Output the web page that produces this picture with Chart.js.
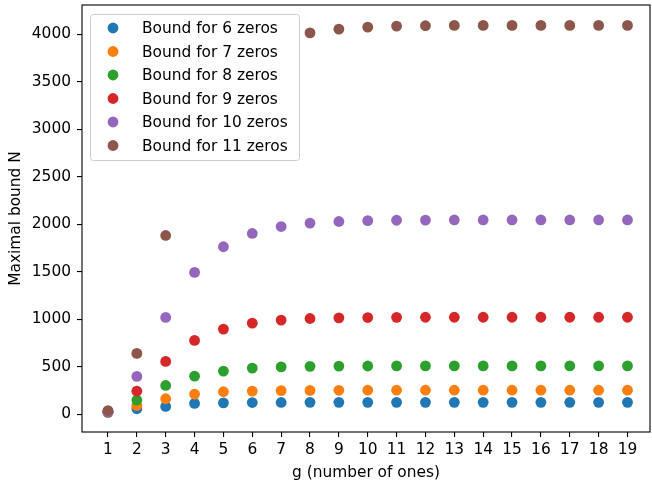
<!DOCTYPE html>
<html>
<head>
<meta charset="utf-8">
<script src="https://cdn.jsdelivr.net/npm/chart.js@4/dist/chart.umd.min.js"></script>
<style>
  html, body { margin: 0; padding: 0; background: #fff; }
  #wrap { width: 652px; height: 482px; }
</style>
</head>
<body>
<div id="wrap"><canvas id="c" width="652" height="482"></canvas></div>
<script>
const gValues = [1,2,3,4,5,6,7,8,9,10,11,12,13,14,15,16,17,18,19];
const xTickLabels = [1,2,3,4,5,6,7,8,9,10,11,12,13,14,15,16,17,18,19];
const yTickLabels = [0,500,1000,1500,2000,2500,3000,3500,4000];

const seriesLabels = ["Bound for 6 zeros","Bound for 7 zeros","Bound for 8 zeros","Bound for 9 zeros","Bound for 10 zeros","Bound for 11 zeros"];
const seriesColors = ["#1f77b4","#ff7f0e","#2ca02c","#d62728","#9467bd","#8c564b"];

const bound6  = [22, 60, 84, 116, 122, 125, 126, 127, 127, 127, 127, 127, 127, 127, 127, 127, 127, 127, 127];
const bound7  = [24, 95, 165, 214, 239, 246, 251, 253, 254, 255, 255, 255, 255, 255, 255, 255, 255, 255, 255];
const bound8  = [26, 151, 305, 403, 456, 488, 500, 506, 509, 510, 511, 511, 511, 511, 511, 511, 511, 511, 511];
const bound9  = [28, 245, 558, 779, 898, 961, 993, 1010, 1017, 1020, 1022, 1023, 1023, 1023, 1023, 1023, 1023, 1023, 1023];
const bound10 = [30, 400, 1021, 1495, 1765, 1905, 1978, 2014, 2031, 2040, 2044, 2046, 2047, 2047, 2047, 2047, 2047, 2047, 2047];
const bound11 = [41, 642, 1884, null, null, null, null, 4017, 4056, 4077, 4088, 4092, 4095, 4095, 4095, 4095, 4095, 4095, 4095];

const allSeries = [bound6, bound7, bound8, bound9, bound10, bound11];

const FONT = "'DejaVu Sans', sans-serif";
const FS = 15.4;

const datasets = allSeries.map((vals, i) => ({
  label: seriesLabels[i],
  data: gValues.map((g, j) => vals[j] === null ? null : ({x: g, y: vals[j]})).filter(p => p !== null),
  backgroundColor: seriesColors[i],
  borderColor: seriesColors[i],
  borderWidth: 0,
  pointRadius: 5.4,
  pointHoverRadius: 5.4,
  showLine: false,
  order: allSeries.length - i
}));

const framePlugin = {
  id: 'frame',
  afterDraw(chart) {
    const {ctx, chartArea: a} = chart;
    ctx.save();
    ctx.strokeStyle = '#000';
    ctx.lineWidth = 1.1;
    ctx.strokeRect(a.left, a.top, a.right - a.left, a.bottom - a.top);
    ctx.restore();

    // legend box (matplotlib style, upper left)
    const lx = 90.5, ly = 14.5, lw = 209, lh = 146, r = 3;
    ctx.save();
    ctx.globalAlpha = 0.8;
    ctx.fillStyle = '#fff';
    ctx.strokeStyle = '#cccccc';
    ctx.lineWidth = 1;
    ctx.beginPath();
    ctx.moveTo(lx + r, ly);
    ctx.lineTo(lx + lw - r, ly);
    ctx.arcTo(lx + lw, ly, lx + lw, ly + r, r);
    ctx.lineTo(lx + lw, ly + lh - r);
    ctx.arcTo(lx + lw, ly + lh, lx + lw - r, ly + lh, r);
    ctx.lineTo(lx + r, ly + lh);
    ctx.arcTo(lx, ly + lh, lx, ly + lh - r, r);
    ctx.lineTo(lx, ly + r);
    ctx.arcTo(lx, ly, lx + r, ly, r);
    ctx.closePath();
    ctx.fill();
    ctx.globalAlpha = 1;
    ctx.stroke();
    ctx.restore();

    ctx.save();
    ctx.font = FS + "px " + FONT;
    ctx.textBaseline = 'middle';
    ctx.textAlign = 'left';
    seriesLabels.forEach((lab, i) => {
      const cy = 28 + i * 23.5;
      ctx.fillStyle = seriesColors[i];
      ctx.beginPath();
      ctx.arc(113, cy, 5.4, 0, Math.PI * 2);
      ctx.fill();
      ctx.fillStyle = '#000';
      ctx.fillText(lab, 142, cy + 1);
    });
    ctx.restore();
  }
};

new Chart(document.getElementById('c'), {
  type: 'scatter',
  data: { datasets },
  options: {
    responsive: false,
    animation: false,
    devicePixelRatio: 1,
    layout: { autoPadding: false, padding: { top: 5, right: 2, left: 0, bottom: 0 } },
    plugins: {
      legend: { display: false },
      tooltip: { enabled: false }
    },
    scales: {
      x: {
        type: 'linear',
        min: 0.1,
        max: 19.78,
        afterBuildTicks(axis) { axis.ticks = xTickLabels.map(v => ({value: v})); },
        afterFit(axis) { axis.height = 50; axis.paddingLeft = 0; axis.paddingRight = 0; },
        grid: { display: true, drawOnChartArea: false, drawTicks: true, tickLength: 5, color: '#000', lineWidth: 1.1 },
        border: { display: false },
        ticks: { color: '#000', font: { family: FONT, size: FS }, padding: 4, maxRotation: 0, autoSkip: false, callback: v => String(v) },
        title: { display: true, text: 'g (number of ones)', color: '#000', font: { family: FONT, size: FS }, padding: { top: 0, bottom: 0 } }
      },
      y: {
        type: 'linear',
        min: -185,
        max: 4310,
        afterBuildTicks(axis) { axis.ticks = yTickLabels.map(v => ({value: v})); },
        afterFit(axis) { axis.width = 82; axis.paddingTop = 0; axis.paddingBottom = 0; },
        grid: { display: true, drawOnChartArea: false, drawTicks: true, tickLength: 5, color: '#000', lineWidth: 1.1 },
        border: { display: false },
        ticks: { color: '#000', font: { family: FONT, size: FS }, padding: 6, autoSkip: false, callback: v => String(v) },
        title: { display: true, text: 'Maximal bound N', color: '#000', font: { family: FONT, size: FS }, padding: { top: 7, bottom: 4 } }
      }
    }
  },
  plugins: [framePlugin]
});
</script>
</body>
</html>
